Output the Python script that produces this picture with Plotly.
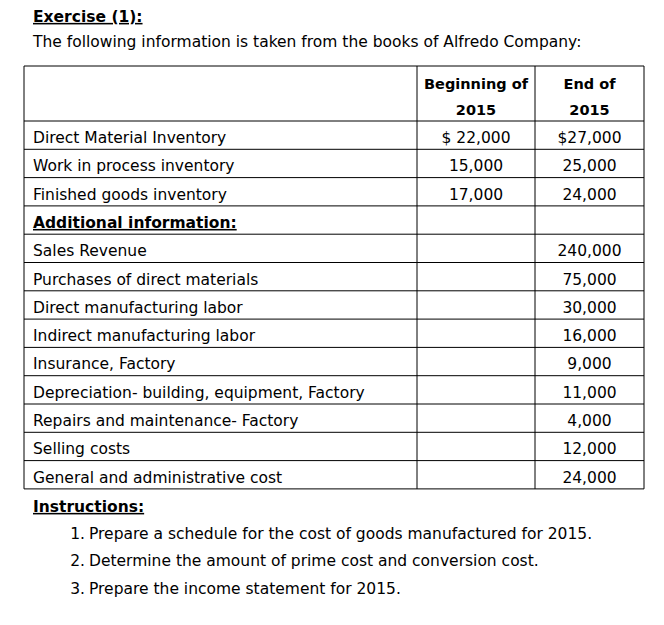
import plotly.graph_objects as go

title = "Exercise (1):"
intro = "The following information is taken from the books of Alfredo Company:"
header_begin = ["Beginning of", "2015"]
header_end = ["End of", "2015"]

items = [
    "Direct Material Inventory",
    "Work in process inventory",
    "Finished goods inventory",
    "Additional information:",
    "Sales Revenue",
    "Purchases of direct materials",
    "Direct manufacturing labor",
    "Indirect manufacturing labor",
    "Insurance, Factory",
    "Depreciation- building, equipment, Factory",
    "Repairs and maintenance- Factory",
    "Selling costs",
    "General and administrative cost",
]
begin_2015 = [22000, 15000, 17000, None, None, None, None, None, None, None, None, None, None]
end_2015 = [27000, 25000, 24000, None, 240000, 75000, 30000, 16000, 9000, 11000, 4000, 12000, 24000]

instructions = [
    "Prepare a schedule for the cost of goods manufactured for 2015.",
    "Determine the amount of prime cost and conversion cost.",
    "Prepare the income statement for 2015.",
]

# ---- layout helpers ----
# page body has an 8px margin, so the figure starts at (8, 8) on screen;
# axis ranges are set so that data units equal screen pixels
OFF = 8
W, H = 664, 625
FONT = "Comic Sans MS, DejaVu Sans, sans-serif"
SIZE = 15.5

col_edges = [24, 417, 535, 644]
table_top = 66
header_h = 55
row_h = 28.3

row_top = [table_top + header_h + i * row_h for i in range(len(items))]
row_mid = [t + row_h / 2 + 4 for t in row_top]
table_bottom = table_top + header_h + len(items) * row_h


def money(v, prefix):
    if v is None:
        return ""
    return f"{prefix}{v:,}"


begin_txt = [money(v, "$ " if i == 0 else "") for i, v in enumerate(begin_2015)]
end_txt = [money(v, "$" if i == 0 else "") for i, v in enumerate(end_2015)]
item_txt = [f"<b><u>{t}</u></b>" if t.endswith(":") else t for t in items]

font = dict(family=FONT, size=SIZE, color="black")
fig = go.Figure()


def text_trace(x, y, text, pos, tfont=font):
    return go.Scatter(
        x=x, y=y, text=text, mode="text", textposition=pos,
        textfont=tfont, hoverinfo="skip", cliponaxis=False,
    )


# row labels
fig.add_trace(text_trace([col_edges[0] + 9] * len(items), row_mid, item_txt, "middle right"))

# value columns
for txt, (a, b) in [(begin_txt, col_edges[1:3]), (end_txt, col_edges[2:4])]:
    fig.add_trace(text_trace([(a + b) / 2] * len(txt), row_mid, txt, "middle center"))

# header
hfont = dict(family=FONT, size=14.5, color="black")
for hdr, (a, b) in [(header_begin, col_edges[1:3]), (header_end, col_edges[2:4])]:
    fig.add_trace(text_trace(
        [(a + b) / 2] * 2, [table_top + 19, table_top + 45],
        [f"<b>{h}</b>" for h in hdr], "middle center", hfont,
    ))

# title, intro, instructions
fig.add_trace(text_trace(
    [33, 33, 33], [18, 43, 508],
    [f"<b><u>{title}</u></b>", intro, "<b><u>Instructions:</u></b>"],
    "middle right",
))
inst_y = [535 + i * 27.5 for i in range(len(instructions))]
fig.add_trace(text_trace(
    [85] * len(instructions), inst_y,
    [f"{i + 1}." for i in range(len(instructions))], "middle left",
))
fig.add_trace(text_trace([89] * len(instructions), inst_y, instructions, "middle right"))

# table grid
line = dict(color="black", width=1)
shapes = []
for x in col_edges:
    shapes.append(dict(type="line", x0=x, x1=x, y0=table_top, y1=table_bottom, line=line))
for y in [table_top, table_top + header_h] + [t + row_h for t in row_top]:
    shapes.append(dict(type="line", x0=col_edges[0], x1=col_edges[-1], y0=y, y1=y, line=line))

fig.update_layout(
    width=W - OFF, height=H - OFF,
    margin=dict(l=0, r=0, t=0, b=0),
    paper_bgcolor="white", plot_bgcolor="white",
    showlegend=False,
    shapes=shapes,
    xaxis=dict(range=[OFF, W], visible=False, fixedrange=True),
    yaxis=dict(range=[H, OFF], visible=False, fixedrange=True),
)

fig.write_html("out.html")
